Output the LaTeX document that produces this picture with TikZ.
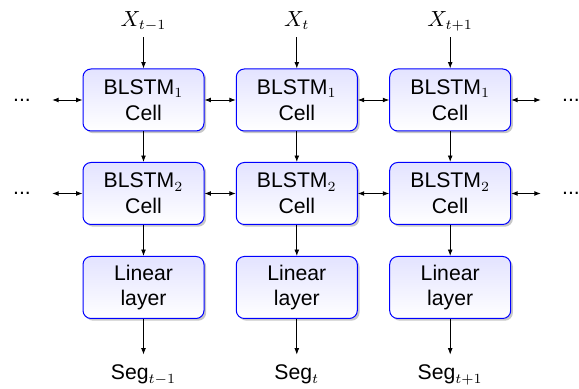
\documentclass[tikz,border=0pt]{standalone}
\usepackage{fontspec}
\setmainfont{Liberation Sans}
\usetikzlibrary{arrows.meta,shadows}
\begin{document}
\begin{tikzpicture}[x=0.5pt,y=-0.5pt,
  cellbox/.style={draw=blue, line width=0.5pt, rounded corners=4pt,
    top color=blue!11, bottom color=white,
    minimum width=60.5pt, minimum height=31pt, inner sep=0pt,
    align=center, font=\fontsize{10.6}{12.85}\selectfont,
    drop shadow={shadow xshift=1.1pt, shadow yshift=-1.1pt, fill=black, opacity=0.22}},
  lbl/.style={inner sep=0pt, font=\fontsize{10.6}{12.85}\selectfont},
  conn/.style={line width=0.4pt, -{Latex[length=3.2pt,width=2.4pt]}},
  bconn/.style={line width=0.4pt, {Latex[length=3.2pt,width=2.4pt]}-{Latex[length=3.2pt,width=2.4pt]}}
]
\useasboundingbox (0,0) rectangle (579,389);
% boxes
\foreach \c/\x in {1/143.5,2/296.8,3/450.2}{
  \node[cellbox] (a\c) at (\x,100) {BLSTM$_1$\\Cell};
  \node[cellbox] (b\c) at (\x,193.5) {BLSTM$_2$\\Cell};
  \node[cellbox] (c\c) at (\x,287.5) {Linear\\layer};
}
% inputs
\node[lbl, anchor=base, text depth=0pt] (x1) at (143.5,26.5) {$X_{t-1}$};
\node[lbl, anchor=base, text depth=0pt] (x2) at (296.8,26.5) {$X_{t}$};
\node[lbl, anchor=base, text depth=0pt] (x3) at (450.2,26.5) {$X_{t+1}$};
% outputs
\node[lbl, anchor=base, text height=7.5pt] (s1) at (143.5,380) {Seg$_{t-1}$};
\node[lbl, anchor=base, text height=7.5pt] (s2) at (296.8,380) {Seg$_{t}$};
\node[lbl, anchor=base, text height=7.5pt] (s3) at (450.2,380) {Seg$_{t+1}$};
% dots
\node[lbl] (la) at (22,100) {...};
\node[lbl] (lb) at (22,193.5) {...};
\node[lbl] (ra) at (571,100) {...};
\node[lbl] (rb) at (571,193.5) {...};
% vertical connectors
\foreach \c in {1,2,3}{
  \draw[conn, shorten <=5.25pt] (x\c) -- (a\c);
  \draw[conn] (a\c) -- (b\c);
  \draw[conn] (b\c) -- (c\c);
  \draw[conn, shorten >=5pt] (c\c) -- (s\c);
}
% horizontal connectors
\draw[bconn] (a1) -- (a2);
\draw[bconn] (a2) -- (a3);
\draw[bconn] (b1) -- (b2);
\draw[bconn] (b2) -- (b3);
\draw[bconn, shorten <=10.5pt] (la) -- (a1);
\draw[bconn, shorten <=10.5pt] (lb) -- (b1);
\draw[bconn, shorten >=10.5pt] (a3) -- (ra);
\draw[bconn, shorten >=10.5pt] (b3) -- (rb);
\end{tikzpicture}
\end{document}
